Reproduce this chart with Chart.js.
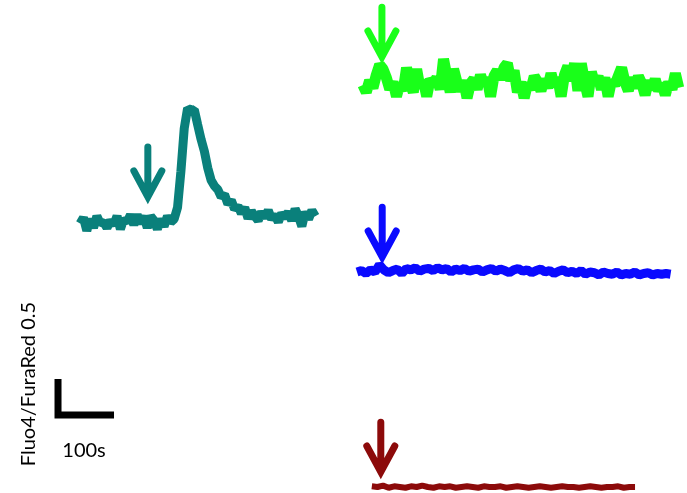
<!DOCTYPE html>
<html>
<head>
<meta charset="utf-8">
<script src="https://cdn.jsdelivr.net/npm/chart.js@4/dist/chart.umd.min.js"></script>
<style>
  html, body { margin: 0; padding: 0; background: #ffffff; }
  #c { display: block; }
</style>
</head>
<body>
<canvas id="c" width="687" height="493"></canvas>
<script>
// ---------- DATA (Fluo4/FuraRed ratio above each trace's baseline) ----------
// sampling interval of each recording, seconds
const tealStep = 6;
const greenStep = 6;
const blueStep = 8;
const redStep = 10;

const tealRatio = [
  -0.02, 0.06, -0.12, 0.04, -0.08, 0.08, -0.02, 0.00, -0.08, 0.02,
  -0.04, 0.08, -0.10, 0.04, 0.00, 0.10, -0.04, 0.10, -0.02, 0.08,
  -0.08, 0.08, 0.02, -0.10, 0.04, -0.06, 0.08, 0.00, 0.04,
  0.20, 0.70, 1.30, 1.58, 1.55, 1.56, 1.35, 1.15, 0.98, 0.75,
  0.58, 0.50, 0.45, 0.35, 0.38, 0.25, 0.30, 0.18, 0.22, 0.12,
  0.20, 0.05, 0.15, 0.08, 0.02, 0.14, 0.06, 0.16, 0.04, 0.10,
  0.00, 0.12, 0.06, 0.14, 0.02, 0.18, 0.08, -0.06, 0.14, 0.04,
  0.16, 0.08
];

const greenRatio = [
  0.00, -0.10, 0.06, -0.04, 0.14, 0.28, 0.22, 0.10, -0.06, 0.04,
  -0.16, 0.02, -0.08, 0.24, 0.04, -0.10, 0.22, -0.04, 0.06, -0.16,
  0.08, 0.02, 0.10, -0.06, 0.36, 0.12, -0.10, 0.22, 0.04, -0.08,
  0.06, -0.18, 0.02, 0.08, -0.06, 0.14, 0.00, 0.10, -0.16, 0.12,
  0.20, 0.08, 0.24, 0.30, 0.06, 0.20, -0.10, 0.04, -0.18, 0.02,
  -0.06, 0.12, 0.04, -0.08, 0.08, -0.04, 0.16, -0.02, 0.10, -0.16,
  0.14, 0.26, 0.06, 0.30, -0.08, 0.30, 0.04, -0.16, 0.18, 0.02,
  0.12, -0.06, 0.10, -0.16, 0.06, 0.00, 0.12, 0.24, 0.04, -0.08,
  0.10, -0.04, 0.12, 0.02, -0.14, 0.06, -0.06, 0.08, -0.08, 0.02,
  -0.14, 0.04, -0.06, 0.16, -0.04
];

const blueRatio = [
  0.00, 0.02, -0.02, 0.03, 0.00, 0.10, 0.03, -0.01, 0.02, 0.04,
  -0.02, 0.05, 0.03, 0.06, 0.01, 0.04, 0.05, 0.02, 0.06, 0.03,
  0.05, 0.00, 0.04, 0.02, 0.05, 0.01, 0.03, 0.04, 0.00, 0.03,
  0.05, 0.01, 0.04, 0.02, -0.01, 0.03, 0.05, 0.01, 0.03, -0.01,
  0.02, 0.04, 0.00, 0.02, -0.02, 0.01, 0.03, -0.01, 0.01, -0.02,
  0.02, -0.03, 0.00, -0.01, -0.04, 0.00, -0.02, -0.03, 0.00, -0.04,
  -0.02, -0.03, 0.00, -0.04, -0.02, -0.01, -0.04, -0.02, -0.03, -0.02,
  -0.03
];

const redRatio = [
  0.01, 0.00, 0.02, -0.01, 0.01, 0.00, -0.01, 0.01, 0.00, 0.02,
  0.00, -0.01, 0.01, 0.00, 0.01, -0.01, 0.00, 0.01, 0.00, -0.01,
  0.01, 0.00, 0.00, 0.01, -0.01, 0.00, 0.01, 0.00, -0.01, 0.00,
  0.01, 0.00, -0.01, 0.00, 0.01, 0.00, 0.00, -0.01, 0.00, 0.01,
  0.00, -0.01, 0.00, 0.00, 0.01, -0.01, 0.00, 0.00
];

// stimulus time (s after trace start) and arrow-tip height above baseline
const stimTimes = [121, 34, 45, 16];
const stimTips = [0.35, 0.39, 0.21, 0.21];

// scale bar values and labels
const scaleBarTime = 100;     // s
const scaleBarRatio = 0.5;
const scaleBarTimeLabel = '100s';
const scaleBarRatioLabel = 'Fluo4/FuraRed 0.5';

// ---------- LAYOUT (where each panel sits on the page, in axis units) ----------
const X_MAX = 1226.8, Y_MAX = 6.847;
const traces = [
  { values: tealRatio,  step: tealStep,  t0: 143,   base: 3.764, color: '#0a807b', width: 9 },
  { values: greenRatio, step: greenStep, t0: 648,   base: 5.667, color: '#19ff19', width: 11 },
  { values: blueRatio,  step: blueStep,  t0: 637.5, base: 3.069, color: '#0a0aff', width: 9 },
  { values: redRatio,   step: redStep,   t0: 664,   base: 0.083, color: '#8c0a0a', width: 6 }
];
const arrowShaft = 0.69, arrowHalfW = 25, arrowHeadH = 0.36, arrowWidth = 7;
const barOrigin = { x: 103.6, y: 1.083 };

// ---------- BUILD DATASETS ----------
const datasets = [];
traces.forEach((tr, k) => {
  datasets.push({
    data: tr.values.map((v, i) => ({ x: tr.t0 + i * tr.step, y: tr.base + v })),
    borderColor: tr.color, borderWidth: tr.width,
    pointRadius: 0, tension: 0, fill: false,
    borderJoinStyle: 'bevel', borderCapStyle: 'butt'
  });
  const tx = tr.t0 + stimTimes[k], ty = tr.base + stimTips[k];
  datasets.push({
    data: [
      { x: tx, y: ty + arrowShaft }, { x: tx, y: ty + 0.05 },
      { x: tx, y: null },
      { x: tx - arrowHalfW, y: ty + arrowHeadH }, { x: tx, y: ty }, { x: tx + arrowHalfW, y: ty + arrowHeadH }
    ],
    borderColor: tr.color, borderWidth: arrowWidth,
    pointRadius: 0, tension: 0, fill: false, spanGaps: false,
    borderJoinStyle: 'miter', borderCapStyle: 'round'
  });
});
// scale bar
datasets.push({
  data: [
    { x: barOrigin.x, y: barOrigin.y + scaleBarRatio },
    { x: barOrigin.x, y: barOrigin.y },
    { x: barOrigin.x + scaleBarTime, y: barOrigin.y }
  ],
  borderColor: '#000000', borderWidth: 7,
  pointRadius: 0, tension: 0, fill: false,
  borderJoinStyle: 'miter', borderCapStyle: 'butt'
});

const labelPlugin = {
  id: 'scaleLabels',
  afterDatasetsDraw(chart) {
    const { ctx, scales } = chart;
    const xs = scales.x, ys = scales.y;
    ctx.save();
    ctx.fillStyle = '#000';
    ctx.font = '20px Lato, "Open Sans", sans-serif';
    ctx.textAlign = 'center';
    ctx.textBaseline = 'alphabetic';
    const cx = xs.getPixelForValue(barOrigin.x + scaleBarTime / 2);
    const by = ys.getPixelForValue(barOrigin.y);
    ctx.fillText(scaleBarTimeLabel, cx - 2, by + 42);
    // rotated y label
    const lx = xs.getPixelForValue(barOrigin.x) - 29;
    const ly = ys.getPixelForValue(barOrigin.y + scaleBarRatio) + 5;
    ctx.translate(lx, ly);
    ctx.rotate(-Math.PI / 2);
    ctx.textBaseline = 'middle';
    ctx.fillText(scaleBarRatioLabel, 0, 0);
    ctx.restore();
  }
};

new Chart(document.getElementById('c'), {
  type: 'line',
  data: { datasets },
  options: {
    responsive: false,
    animation: false,
    layout: { padding: 0 },
    plugins: { legend: { display: false }, tooltip: { enabled: false } },
    scales: {
      x: { type: 'linear', min: 0, max: X_MAX, display: false },
      y: { type: 'linear', min: 0, max: Y_MAX, display: false }
    }
  },
  plugins: [labelPlugin]
});
</script>
</body>
</html>
